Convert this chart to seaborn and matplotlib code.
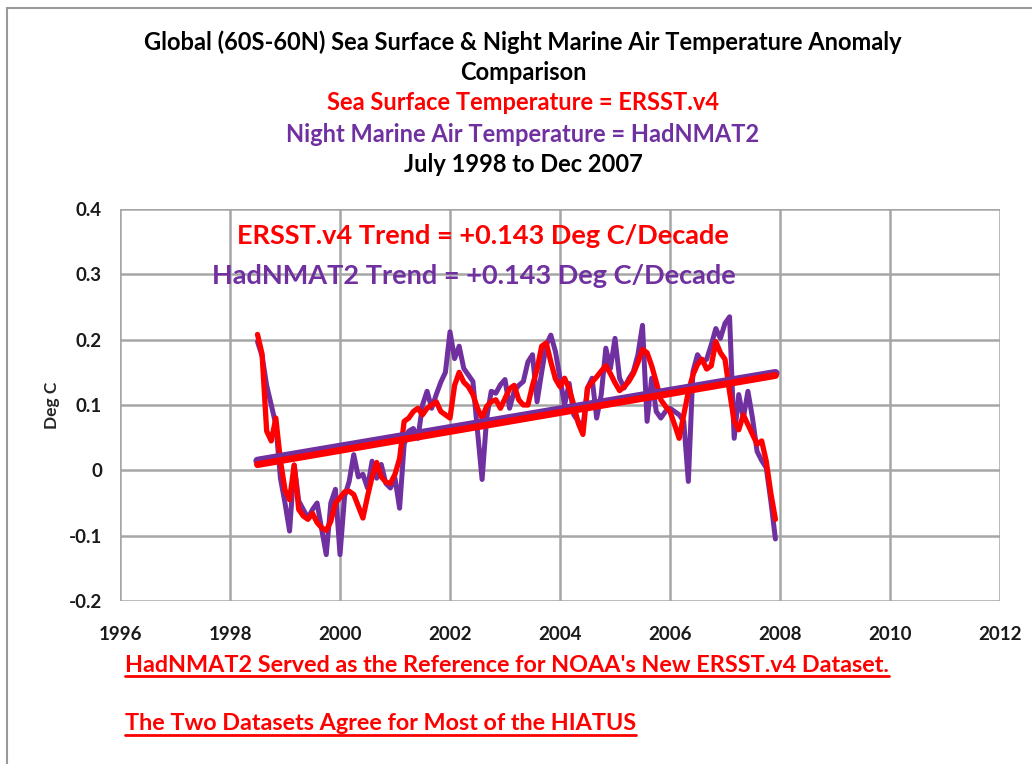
import seaborn as sns
import matplotlib.pyplot as plt
from matplotlib.lines import Line2D
import numpy as np
import pandas as pd

# DATA #
# monthly anomalies, July 1998 - Dec 2007 (deg C)
ersst = [0.208, 0.178, 0.06, 0.045, 0.08, 0.015, -0.03, -0.045, 0.008, -0.06,
         -0.07, -0.075, -0.066, -0.08, -0.088, -0.092, -0.078, -0.05, -0.042, -0.033,
         -0.032, -0.037, -0.055, -0.073, -0.04, -0.01, 0.012, -0.01, -0.018, -0.02,
         -0.006, 0.018, 0.075, 0.08, 0.09, 0.095, 0.085, 0.095, 0.1, 0.105,
         0.09, 0.085, 0.08, 0.13, 0.15, 0.135, 0.128, 0.116, 0.095, 0.08,
         0.098, 0.105, 0.108, 0.095, 0.11, 0.125, 0.13, 0.108, 0.1, 0.1,
         0.13, 0.155, 0.19, 0.195, 0.166, 0.14, 0.128, 0.141, 0.125, 0.1,
         0.072, 0.055, 0.126, 0.135, 0.143, 0.152, 0.16, 0.148, 0.134, 0.122,
         0.128, 0.136, 0.148, 0.165, 0.185, 0.18, 0.16, 0.135, 0.108, 0.098,
         0.09, 0.07, 0.049, 0.085, 0.12, 0.146, 0.162, 0.17, 0.155, 0.16,
         0.197, 0.18, 0.17, 0.12, 0.075, 0.062, 0.085, 0.07, 0.055, 0.04,
         0.045, 0.014, -0.035, -0.075]
hadnmat2 = [0.197, 0.175, 0.13, 0.1, 0.07, -0.012, -0.05, -0.093, 0.008, -0.047,
            -0.06, -0.073, -0.06, -0.05, -0.09, -0.129, -0.05, -0.029, -0.129, -0.04,
            -0.017, 0.024, -0.01, -0.006, -0.027, 0.014, -0.012, 0.009, -0.02, -0.027,
            -0.012, -0.058, 0.04, 0.06, 0.064, 0.049, 0.1, 0.121, 0.095, 0.116,
            0.135, 0.15, 0.212, 0.171, 0.19, 0.156, 0.146, 0.136, 0.06, -0.014,
            0.08, 0.121, 0.118, 0.131, 0.139, 0.095, 0.121, 0.13, 0.136, 0.166,
            0.177, 0.105, 0.15, 0.192, 0.207, 0.182, 0.141, 0.1, 0.133, 0.085,
            0.075, 0.065, 0.126, 0.141, 0.08, 0.116, 0.187, 0.156, 0.202, 0.141,
            0.126, 0.14, 0.151, 0.177, 0.222, 0.075, 0.141, 0.09, 0.08, 0.09,
            0.095, 0.09, 0.085, 0.075, -0.017, 0.151, 0.177, 0.166, 0.17, 0.192,
            0.217, 0.202, 0.225, 0.235, 0.049, 0.116, 0.08, 0.121, 0.08, 0.029,
            0.015, 0.004, -0.047, -0.105]
months = pd.date_range('1998-07-01', periods=len(ersst), freq='MS')
year = months.year + (months.month - 1) / 12.0
x_ticks = list(range(1996, 2013, 2))
y_ticks = [-0.2, -0.1, 0, 0.1, 0.2, 0.3, 0.4]

df = pd.DataFrame({'year': year, 'ERSST.v4': ersst, 'HadNMAT2': hadnmat2})

RED = '#ff0000'
PURPLE = '#7030a0'
GRID = '#a6a6a6'
FONT = 'Lato'

# PLOT #
sns.set_style('white')
plt.rcParams['font.family'] = [FONT, 'DejaVu Sans']
plt.rcParams['font.weight'] = 'bold'

fig = plt.figure(figsize=(10.32, 7.64), dpi=100)
ax = fig.add_axes([120 / 1032, 1 - 601 / 764, 880 / 1032, 392 / 764])

sns.lineplot(data=df, x='year', y='HadNMAT2', color=PURPLE, lw=3.6, ax=ax)
sns.lineplot(data=df, x='year', y='ERSST.v4', color=RED, lw=3.8, ax=ax)
sns.regplot(data=df, x='year', y='HadNMAT2', scatter=False, ci=None, ax=ax,
            line_kws={'color': PURPLE, 'lw': 6})
sns.regplot(data=df, x='year', y='ERSST.v4', scatter=False, ci=None, ax=ax,
            line_kws={'color': RED, 'lw': 5})

ax.set_xlim(1996, 2012)
ax.set_ylim(-0.2, 0.4)
ax.set_xticks(x_ticks)
ax.set_yticks(y_ticks)
ax.set_yticklabels(['-0.2', '-0.1', '0', '0.1', '0.2', '0.3', '0.4'])
ax.grid(True, color=GRID, lw=1.8)
ax.set_axisbelow(True)
for s in ax.spines.values():
    s.set_visible(False)
ax.tick_params(axis='both', length=6, width=1.8, color=GRID, labelsize=13.5,
               labelcolor='#1a1a1a', pad=7)
ax.tick_params(axis='x', length=0, pad=18)
for lab in ax.get_xticklabels() + ax.get_yticklabels():
    lab.set_fontweight('bold')
ax.set_xlabel('')
ax.set_ylabel('Deg C', fontsize=12.5, fontweight='bold', labelpad=6)

ax.text(0.133, 0.931, 'ERSST.v4 Trend = +0.143 Deg C/Decade', transform=ax.transAxes,
        color=RED, fontsize=19.5, fontweight='bold', ha='left', va='center')
ax.text(0.1045, 0.829, 'HadNMAT2 Trend = +0.143 Deg C/Decade', transform=ax.transAxes,
        color=PURPLE, fontsize=19.5, fontweight='bold', ha='left', va='center')

# titles
cx = 523 / 1032
titles = [('Global (60S-60N) Sea Surface & Night Marine Air Temperature Anomaly', 'black', 42),
          ('Comparison', 'black', 73),
          ('Sea Surface Temperature = ERSST.v4', RED, 103),
          ('Night Marine Air Temperature = HadNMAT2', PURPLE, 134),
          ('July 1998 to Dec 2007', 'black', 165)]
for txt, c, yy in titles:
    fig.text(cx, 1 - yy / 764, txt, color=c, fontsize=17, fontweight='bold',
             ha='center', va='center')

# bottom notes, underlined
notes = [("HadNMAT2 Served as the Reference for NOAA's New ERSST.v4 Dataset.", 665),
         ('The Two Datasets Agree for Most of the HIATUS', 724)]
fig.canvas.draw()
r = fig.canvas.get_renderer()
for txt, yy in notes:
    t = fig.text(125 / 1032, 1 - yy / 764, txt, color=RED, fontsize=16.8,
                 fontweight='bold', ha='left', va='center')
    bb = t.get_window_extent(renderer=r).transformed(fig.transFigure.inverted())
    fig.add_artist(Line2D([bb.x0, bb.x1], [bb.y0 - 0.001, bb.y0 - 0.001],
                          transform=fig.transFigure, color=RED, lw=2))

# outer frame
fig.add_artist(Line2D([7 / 1032, 7 / 1032], [0, 1 - 8 / 764], transform=fig.transFigure,
                      color='#9a9a9a', lw=1.5))
fig.add_artist(Line2D([7 / 1032, 1], [1 - 8 / 764, 1 - 8 / 764], transform=fig.transFigure,
                      color='#9a9a9a', lw=1.5))

fig.savefig('out.png', dpi=100, facecolor='white')
